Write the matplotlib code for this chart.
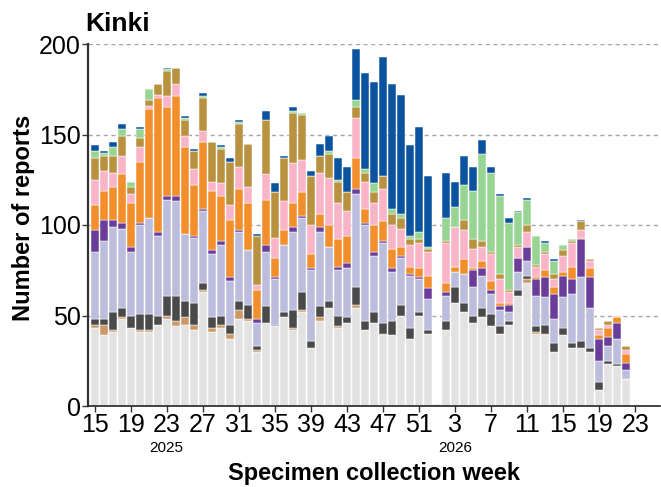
import numpy as np
import matplotlib
matplotlib.use("Agg")
import matplotlib.pyplot as plt
from matplotlib import transforms

plt.rcParams["font.family"] = ["Liberation Sans", "DejaVu Sans"]

# ---------- weekly report counts (2025 w15 .. 2026 w23) ----------
weeks = list(range(15, 53)) + list(range(1, 24))
tick_every = 4

grey = [43, 39, 41, 48, 43, 41, 41, 45, 48, 44, 45, 42,
        63, 41, 43, 37, 48, 47, 30, 46, 44, 49, 42, 52,
        32, 47, 54, 43, 46, 54, 42, 46, 39, 39, 50, 37, 50, 40,
        0, 42, 57, 52, 46, 49, 44, 40, 45, 61, 68, 40, 39, 30,
        39, 32, 32, 30, 9, 23, 22, 15, 0]
tan = [2, 6, 1, 1, 0, 1, 1, 0, 2, 3, 4, 3,
       1, 2, 2, 3, 5, 1, 1, 0, 0, 0, 1, 1,
       0, 2, 0, 1, 0, 2, 0, 0, 1, 0, 0, 0, 0, 0,
       0, 0, 0, 0, 0, 0, 0, 0, 0, 0, 2, 1, 1, 0,
       0, 0, 0, 0, 0, 0, 0, 0, 0]
dark_grey = [3, 3, 10, 5, 7, 9, 9, 5, 11, 14, 9, 12,
             4, 6, 5, 5, 5, 8, 2, 9, 1, 3, 10, 10,
             4, 6, 4, 6, 3, 10, 5, 6, 6, 8, 6, 6, 2, 2,
             0, 5, 9, 5, 4, 5, 7, 4, 2, 3, 2, 3, 5, 5,
             4, 3, 4, 2, 4, 2, 1, 0, 0]
lavender = [37, 43, 47, 44, 35, 49, 53, 44, 53, 52, 37, 36,
            40, 35, 39, 24, 38, 30, 13, 30, 25, 37, 43, 41,
            39, 41, 30, 25, 27, 51, 53, 31, 44, 27, 26, 29, 18, 17,
            0, 14, 8, 16, 16, 18, 11, 9, 5, 10, 8, 17, 15, 13,
            17, 27, 35, 22, 12, 8, 14, 5, 0]
purple = [12, 12, 4, 3, 3, 1, 0, 2, 2, 3, 0, 1,
          1, 2, 2, 2, 1, 0, 2, 4, 1, 0, 3, 1,
          1, 3, 0, 2, 3, 3, 1, 2, 1, 2, 1, 1, 1, 6,
          0, 2, 0, 0, 9, 4, 2, 2, 4, 8, 8, 9, 11, 14,
          12, 8, 21, 17, 12, 5, 9, 4, 0]
orange = [14, 16, 18, 27, 24, 34, 60, 74, 49, 55, 48, 28,
          37, 33, 25, 32, 23, 26, 16, 25, 11, 8, 13, 13,
          8, 7, 12, 15, 15, 17, 8, 15, 11, 11, 5, 4, 5, 7,
          0, 5, 3, 8, 1, 4, 5, 2, 1, 0, 0, 1, 4, 4,
          2, 7, 1, 5, 2, 5, 3, 5, 0]
pink = [14, 11, 8, 10, 5, 8, 2, 2, 6, 7, 6, 9,
        6, 5, 7, 8, 12, 9, 3, 14, 11, 16, 22, 18,
        16, 23, 26, 20, 14, 22, 15, 12, 18, 13, 10, 12, 14, 13,
        1, 22, 22, 16, 11, 8, 15, 13, 6, 6, 8, 6, 9, 4,
        9, 13, 4, 4, 3, 2, 0, 2, 0]
gold = [12, 8, 9, 11, 4, 5, 3, 6, 14, 9, 9, 10,
        18, 22, 19, 24, 24, 24, 27, 30, 25, 24, 28, 25,
        27, 9, 13, 12, 10, 6, 5, 6, 7, 6, 6, 3, 2, 2,
        0, 1, 0, 6, 5, 3, 1, 3, 1, 1, 4, 1, 1, 3,
        3, 1, 5, 1, 1, 2, 1, 2, 0]
green = [4, 2, 5, 4, 3, 5, 6, 0, 1, 0, 1, 0,
         1, 0, 1, 0, 1, 0, 0, 0, 0, 0, 1, 1,
         0, 0, 2, 1, 0, 4, 2, 5, 0, 3, 2, 2, 4, 1,
         0, 13, 11, 19, 27, 48, 44, 43, 37, 18, 14, 16, 5, 7,
         3, 1, 0, 0, 0, 0, 0, 0, 0]
blue = [3, 1, 3, 3, 0, 1, 0, 0, 1, 0, 1, 1,
        2, 0, 1, 2, 1, 0, 1, 5, 5, 1, 2, 0,
        3, 7, 8, 12, 14, 28, 53, 56, 66, 69, 66, 50, 58, 39,
        0, 25, 14, 16, 13, 8, 3, 1, 3, 1, 1, 0, 1, 1,
        0, 0, 1, 0, 0, 0, 0, 0, 0]

series = [grey, tan, dark_grey, lavender, purple, orange, pink, gold, green, blue]
colors = ["#e2e2e2", "#cc9966", "#4a4a4a", "#bcbddc", "#6a3d9a",
          "#f28e2b", "#f9b4c8", "#b8923f", "#98d594", "#0b539e"]

# ---------- figure ----------
fig = plt.figure(figsize=(6.61, 4.87), dpi=100)
ax = fig.add_axes([88 / 661, 1 - 406 / 487, 572 / 661, 362 / 487])

x = np.arange(len(weeks))
bottom = np.zeros(len(weeks))
for vals, col in zip(series, colors):
    vals = np.array(vals, dtype=float)
    ax.bar(x, vals, bottom=bottom, width=0.92, color=col,
           edgecolor="white", linewidth=0.35, zorder=3)
    bottom += vals

# dashed horizontal guides
for yv in [50, 100, 150, 200]:
    ax.axhline(yv, color="#a6a6a6", linestyle=(0, (3, 2.5)), linewidth=1.0, zorder=1)

ax.set_xlim(-0.74, 62.75)
ax.set_ylim(0, 200)
ax.set_yticks([0, 50, 100, 150, 200])
ax.set_xticks(x[::tick_every])
ax.set_xticklabels([str(weeks[i]) for i in x[::tick_every]])
ax.tick_params(axis="both", labelsize=18, length=4, width=1, color="#333333", pad=1)

for s in ["top", "right"]:
    ax.spines[s].set_visible(False)
for s in ["left", "bottom"]:
    ax.spines[s].set_zorder(5)
ax.spines["left"].set_linewidth(1.6)
ax.spines["left"].set_color("#333333")
ax.spines["bottom"].set_linewidth(1.2)
ax.spines["bottom"].set_color("#222222")

# year labels under the week numbers
trans = transforms.blended_transform_factory(ax.transData, ax.transAxes)
ax.text(8, -0.115, "2025", transform=trans, ha="center", va="center", fontsize=11)
ax.text(40, -0.115, "2026", transform=trans, ha="center", va="center", fontsize=11)

ax.set_xlabel("Specimen collection week", fontsize=17, fontweight="bold")
ax.xaxis.set_label_coords(0.5, -0.155)
ax.set_ylabel("Number of reports", fontsize=17, fontweight="bold")
ax.yaxis.set_label_coords(-0.092, 0.52)

fig.text(85 / 661, 1 - 31 / 487, "Kinki", fontsize=19, fontweight="bold",
         ha="left", va="baseline")

fig.savefig("out.png", dpi=100)
